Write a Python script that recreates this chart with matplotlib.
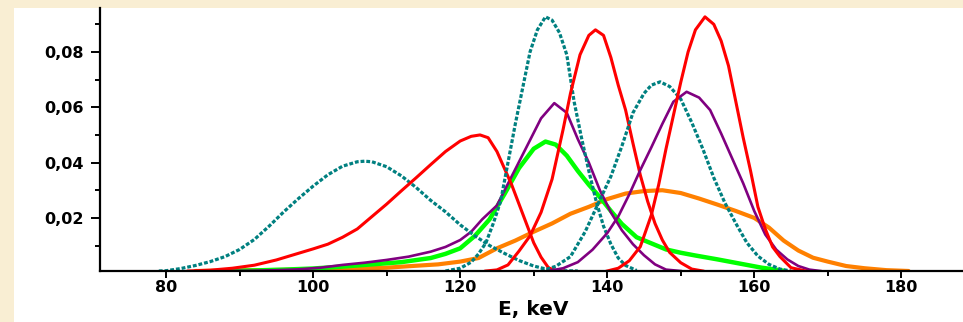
import matplotlib.pyplot as plt
from matplotlib.patches import Rectangle

# =========================================================
# Données (E en keV, intensité)
# =========================================================

# pic sarcelle ~107 keV
E_a = [79, 80, 82, 84, 86, 88, 90, 92, 94, 96, 98, 100, 102, 104, 106, 107, 108,
       110, 112, 114, 116, 118, 120, 122, 124, 126, 128, 130, 132, 134, 136]
v_a = [0.0008, 0.0009, 0.0017, 0.0028, 0.0042, 0.0060, 0.0086, 0.0122, 0.0170, 0.0222,
       0.0270, 0.0315, 0.0356, 0.0387, 0.0403, 0.0405, 0.0403, 0.0385, 0.0352, 0.0310,
       0.0263, 0.0222, 0.0175, 0.0135, 0.0100, 0.0072, 0.0046, 0.0026, 0.0013, 0.0009, 0.0008]

# pic rouge ~123 keV
E_b = [83, 86, 89, 92, 95, 98, 100, 102, 104, 106, 108, 110, 112, 114, 116, 118, 120,
       121.5, 122.7, 123.8, 125, 126, 127, 128, 129, 130, 131, 132, 133, 134]
v_b = [0.0008, 0.0011, 0.0018, 0.0029, 0.0048, 0.0072, 0.0088, 0.0105, 0.0130, 0.0160,
       0.0205, 0.0250, 0.0298, 0.0345, 0.0393, 0.0440, 0.0478, 0.0495, 0.0500, 0.0490,
       0.0440, 0.0380, 0.0320, 0.0250, 0.0180, 0.0110, 0.0058, 0.0020, 0.0009, 0.0008]

# pic sarcelle ~131.5 keV
E_c = [118, 120, 121.5, 122.5, 123.5, 124.5, 125.5, 126.5, 127.5, 128.5, 129.5, 130.5,
       131.6, 132.5, 133.5, 134.5, 135.5, 136.5, 137.5, 138.5, 139.5, 140.5, 141.5, 142.5, 144]
v_c = [0.0008, 0.0018, 0.0040, 0.0070, 0.0110, 0.0180, 0.0260, 0.0400, 0.0540, 0.0670,
       0.0800, 0.0880, 0.0927, 0.0915, 0.0870, 0.0790, 0.0620, 0.0490, 0.0370, 0.0260,
       0.0170, 0.0105, 0.0055, 0.0028, 0.0010]

# pic violet ~133 keV
E_d = [89, 92, 95, 98, 101, 104, 107, 110, 113, 116, 118, 120, 121.5, 123, 125, 127,
       129, 131, 132.8, 134.5, 136, 137.5, 139, 140.5, 142, 143.5, 145, 146.5, 148, 150]
v_d = [0.0008, 0.0009, 0.0011, 0.0014, 0.0020, 0.0030, 0.0038, 0.0048, 0.0060, 0.0078,
       0.0095, 0.0120, 0.0150, 0.0195, 0.0245, 0.0350, 0.0455, 0.0560, 0.0615, 0.0580,
       0.0485, 0.0400, 0.0300, 0.0220, 0.0155, 0.0105, 0.0065, 0.0032, 0.0013, 0.0008]

# pic vert ~131.6 keV
E_e = [88, 92, 96, 100, 104, 108, 112, 116, 118, 120, 122, 124, 126, 128, 130, 131.6,
       133, 134.5, 136, 137.5, 139, 140.5, 142, 144, 146, 148, 150, 152, 155, 158, 161, 164]
v_e = [0.0008, 0.0010, 0.0013, 0.0017, 0.0024, 0.0032, 0.0040, 0.0055, 0.0070, 0.0090,
       0.0135, 0.0195, 0.0285, 0.0380, 0.0450, 0.0476, 0.0465, 0.0425, 0.0370, 0.0320,
       0.0275, 0.0225, 0.0178, 0.0130, 0.0108, 0.0086, 0.0074, 0.0064, 0.0050, 0.0035,
       0.0020, 0.0009]

# pic rouge ~138.5 keV
E_f = [123.5, 125, 126.5, 128, 129.5, 131, 132.5, 134, 135, 136.3, 137.5, 138.4, 139.5,
       140.5, 141.5, 142.5, 143.5, 144.5, 145.5, 146.5, 147.5, 148.5, 150, 151.5, 153]
v_f = [0.0008, 0.0012, 0.0030, 0.0080, 0.0135, 0.0220, 0.0340, 0.0520, 0.0650, 0.0790,
       0.0860, 0.0880, 0.0860, 0.0780, 0.0680, 0.0590, 0.0470, 0.0355, 0.0260, 0.0180,
       0.0120, 0.0075, 0.0038, 0.0015, 0.0008]

# pic sarcelle ~147 keV
E_g = [131, 133, 135, 137, 139, 140.5, 142, 143.5, 145, 146, 147.2, 148.5, 150, 151.5,
       153, 154.5, 156, 157.5, 159, 160.5, 162, 163.5, 165]
v_g = [0.0008, 0.0025, 0.0060, 0.0150, 0.0265, 0.0350, 0.0460, 0.0580, 0.0650, 0.0680,
       0.0692, 0.0675, 0.0630, 0.0545, 0.0450, 0.0345, 0.0255, 0.0180, 0.0110, 0.0062,
       0.0032, 0.0015, 0.0008]

# pic violet ~151 keV
E_h = [132, 134, 136, 138, 140, 141.5, 143, 144.5, 146, 147.5, 149, 150.8, 152.5, 154,
       155.5, 157, 158.5, 160, 161.5, 163, 164.5, 166, 167.5, 169]
v_h = [0.0008, 0.0018, 0.0040, 0.0085, 0.0145, 0.0205, 0.0285, 0.0373, 0.0455, 0.0540,
       0.0620, 0.0656, 0.0635, 0.0590, 0.0505, 0.0415, 0.0325, 0.0225, 0.0140, 0.0085,
       0.0050, 0.0026, 0.0013, 0.0008]

# pic rouge ~153.5 keV
E_i = [140, 141.5, 143, 144.5, 146, 147, 148, 149, 150, 151, 152, 153.3, 154.5, 155.5,
       156.5, 157.5, 158.5, 159.5, 160.5, 161.5, 162.5, 163.5, 165, 167]
v_i = [0.0008, 0.0018, 0.0045, 0.0096, 0.0210, 0.0320, 0.0450, 0.0570, 0.0690, 0.0800,
       0.0880, 0.0927, 0.0900, 0.0840, 0.0750, 0.0620, 0.0490, 0.0370, 0.0240, 0.0160,
       0.0095, 0.0060, 0.0020, 0.0008]

# spectre large orange ~147 keV
E_j = [84, 90, 96, 102, 106, 110, 114, 117, 120, 122.5, 125, 127.5, 130, 132.5, 135,
       137.5, 140, 142.5, 145, 147.5, 150, 152.5, 155, 157.5, 160, 162, 164, 166, 168,
       170, 172.5, 175, 178, 181]
v_j = [0.0008, 0.0010, 0.0012, 0.0014, 0.0017, 0.0020, 0.0027, 0.0032, 0.0042, 0.0055,
       0.0090, 0.0118, 0.0150, 0.0180, 0.0215, 0.0240, 0.0268, 0.0288, 0.0297, 0.0300,
       0.0290, 0.0270, 0.0248, 0.0225, 0.0200, 0.0165, 0.0118, 0.0082, 0.0056, 0.0042,
       0.0026, 0.0018, 0.0011, 0.0008]

# graduations
x_major = [80, 100, 120, 140, 160, 180]
x_minor = [90, 110, 130, 150, 170]
y_major = [0.02, 0.04, 0.06, 0.08]
y_minor = [0.01, 0.03, 0.05, 0.07, 0.09]
y_labels = ["0,02", "0,04", "0,06", "0,08"]

# couleurs
TEAL = "#008080"
RED = "#ff0000"
PURPLE = "#800080"
GREEN = "#00ff00"
ORANGE = "#ff8000"

# =========================================================
# Figure
# =========================================================

W, H = 963, 322
fig = plt.figure(figsize=(W / 100, H / 100), dpi=100)
fig.patch.set_facecolor("#f9eed3")

# panneau blanc derrière le graphique (sous les axes)
panneau = Rectangle((14 / W, 0), (W - 14) / W, (H - 8) / H,
                    transform=fig.transFigure, facecolor="white",
                    edgecolor="none", zorder=-10)
fig.add_artist(panneau)

ax = fig.add_axes([100 / W, 51 / H, (W - 100) / W, 263 / H])
ax.set_facecolor("white")
ax.set_zorder(1)

dots = (0, (1.2, 0.6))

ax.plot(E_j, v_j, color=ORANGE, lw=3.0, solid_capstyle="round")
ax.plot(E_e, v_e, color=GREEN, lw=3.2, solid_capstyle="round")
ax.plot(E_d, v_d, color=PURPLE, lw=1.9)
ax.plot(E_a, v_a, color=TEAL, lw=2.3, linestyle=dots)
ax.plot(E_b, v_b, color=RED, lw=2.2)
ax.plot(E_c, v_c, color=TEAL, lw=2.3, linestyle=dots)
ax.plot(E_f, v_f, color=RED, lw=2.2)
ax.plot(E_g, v_g, color=TEAL, lw=2.3, linestyle=dots)
ax.plot(E_h, v_h, color=PURPLE, lw=1.9)
ax.plot(E_i, v_i, color=RED, lw=2.2)

ax.set_xlim(71, 188.4)
ax.set_ylim(0.0008, 0.0959)

# axes
for side in ["top", "right"]:
    ax.spines[side].set_visible(False)
for side in ["left", "bottom"]:
    ax.spines[side].set_linewidth(1.6)
    ax.spines[side].set_color("black")

ax.set_xticks(x_major)
ax.set_xticks(x_minor, minor=True)
ax.set_yticks(y_major)
ax.set_yticks(y_minor, minor=True)
ax.set_yticklabels(y_labels)

ax.tick_params(axis="y", which="major", direction="out", length=6.5, width=1.4, pad=5)
ax.tick_params(axis="y", which="minor", direction="out", length=3.5, width=1.4)
ax.tick_params(axis="x", which="major", direction="out", length=5, width=1.4, pad=1.5)
ax.tick_params(axis="x", which="minor", direction="out", length=3.5, width=1.4)

for lab in ax.get_xticklabels() + ax.get_yticklabels():
    lab.set_fontweight("bold")
    lab.set_fontsize(11.5)

ax.set_xlabel("E, keV", fontsize=14.5, fontweight="bold")
ax.xaxis.set_label_coords((533 - 100) / (W - 100), (271 - 300) / 263)

fig.savefig("out.png", dpi=100, facecolor=fig.get_facecolor())
